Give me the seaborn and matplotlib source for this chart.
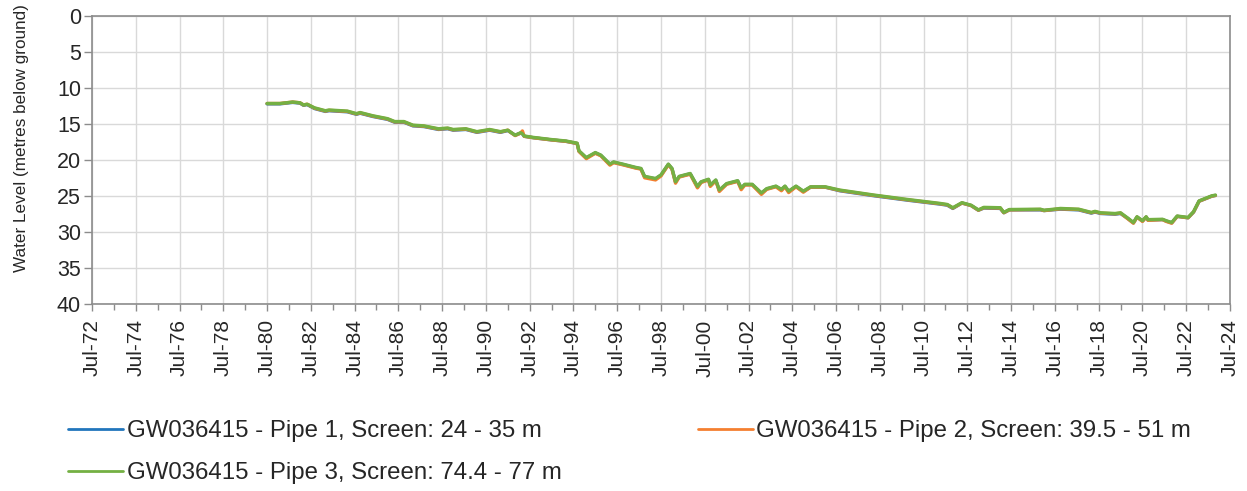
import numpy as np
import pandas as pd
import matplotlib
matplotlib.use("Agg")
import matplotlib.pyplot as plt
import matplotlib.dates as mdates
from matplotlib.ticker import MultipleLocator
from matplotlib.lines import Line2D
import seaborn as sns

# readings (month of sample) and water level in metres below ground for each pipe
dates = [
    "1980-07", "1981-02", "1981-09", "1982-01", "1982-03", "1982-05", "1982-09", "1983-03", "1983-05", "1984-03",
    "1984-08", "1984-10", "1985-05", "1986-01", "1986-05", "1986-10", "1987-03", "1987-09", "1988-05", "1988-10",
    "1989-01", "1989-08", "1990-02", "1990-09", "1991-03", "1991-07", "1991-11", "1992-02", "1992-03", "1992-04",
    "1992-09", "1993-07", "1994-03", "1994-09", "1994-10", "1995-02", "1995-07", "1995-10", "1996-03", "1996-05",
    "1996-10", "1997-05", "1997-08", "1997-10", "1998-04", "1998-07", "1998-11", "1999-01", "1999-03", "1999-05",
    "1999-11", "2000-03", "2000-05", "2000-09", "2000-10", "2001-01", "2001-03", "2001-07", "2002-01", "2002-03",
    "2002-05", "2002-09", "2003-02", "2003-05", "2003-10", "2004-01", "2004-03", "2004-05", "2004-09", "2005-01",
    "2005-05", "2006-01", "2006-09", "2008-04", "2009-10", "2011-04", "2011-08", "2011-11", "2012-04", "2012-09",
    "2013-01", "2013-04", "2014-01", "2014-03", "2014-06", "2015-11", "2016-01", "2016-10", "2017-08", "2018-03",
    "2018-05", "2018-08", "2019-04", "2019-07", "2019-11", "2020-02", "2020-04", "2020-07", "2020-09", "2020-10",
    "2021-06", "2021-08", "2021-11", "2022-02", "2022-08", "2022-11", "2023-02", "2023-09", "2023-11",
]

pipe1 = [
    12.25, 12.25, 12.05, 12.15, 12.45, 12.35, 12.9, 13.3, 13.2, 13.35,
    13.7, 13.55, 14.0, 14.4, 14.8, 14.8, 15.3, 15.4, 15.8, 15.7,
    15.9, 15.8, 16.2, 15.9, 16.2, 15.95, 16.6, 16.3, 16.4, 16.75,
    16.95, 17.25, 17.45, 17.75, 18.8, 19.75, 19.05, 19.4, 20.65, 20.35,
    20.65, 21.1, 21.25, 22.35, 22.65, 22.15, 20.65, 21.25, 23.1, 22.35,
    21.95, 23.75, 23.1, 22.75, 23.55, 22.85, 24.25, 23.35, 22.95, 23.95,
    23.45, 23.45, 24.65, 24.05, 23.7, 24.15, 23.7, 24.4, 23.7, 24.4,
    23.8, 23.8, 24.3, 25.0, 25.6, 26.15, 26.3, 26.75, 26.0, 26.35,
    27.0, 26.7, 26.75, 27.35, 26.95, 26.95, 27.05, 26.85, 26.95, 27.4,
    27.25, 27.45, 27.55, 27.45, 28.15, 28.75, 27.95, 28.5, 27.95, 28.35,
    28.3, 28.5, 28.75, 27.85, 28.05, 27.25, 25.75, 25.05, 24.95,
]

pipe2 = [
    12.2, 12.2, 12.0, 12.1, 12.4, 12.3, 12.85, 13.25, 13.15, 13.3,
    13.65, 13.5, 13.95, 14.35, 14.75, 14.75, 15.25, 15.35, 15.75, 15.65,
    15.85, 15.75, 16.15, 15.85, 16.15, 15.9, 16.65, 16.3, 16.0, 16.75,
    16.95, 17.25, 17.45, 17.75, 18.85, 19.85, 19.1, 19.45, 20.75, 20.4,
    20.7, 21.15, 21.3, 22.5, 22.8, 22.25, 20.7, 21.3, 23.25, 22.4,
    22.0, 23.9, 23.15, 22.8, 23.7, 22.9, 24.4, 23.4, 23.0, 24.15,
    23.5, 23.5, 24.8, 24.1, 23.75, 24.3, 23.75, 24.55, 23.75, 24.5,
    23.8, 23.8, 24.25, 24.95, 25.55, 26.1, 26.25, 26.7, 26.0, 26.35,
    27.0, 26.65, 26.7, 27.35, 26.95, 26.9, 27.05, 26.8, 26.9, 27.35,
    27.2, 27.4, 27.5, 27.4, 28.2, 28.8, 27.95, 28.55, 27.95, 28.4,
    28.3, 28.55, 28.8, 27.85, 28.05, 27.25, 25.75, 25.05, 24.95,
]

pipe3 = [
    12.2, 12.2, 12.0, 12.1, 12.4, 12.3, 12.8, 13.2, 13.1, 13.25,
    13.6, 13.45, 13.9, 14.3, 14.7, 14.7, 15.2, 15.3, 15.7, 15.6,
    15.8, 15.7, 16.1, 15.8, 16.1, 15.9, 16.6, 16.25, 16.4, 16.7,
    16.9, 17.2, 17.4, 17.7, 18.75, 19.7, 19.0, 19.35, 20.6, 20.3,
    20.6, 21.05, 21.2, 22.3, 22.6, 22.1, 20.6, 21.2, 23.05, 22.3,
    21.9, 23.7, 23.05, 22.7, 23.5, 22.8, 24.2, 23.3, 22.9, 23.9,
    23.4, 23.4, 24.6, 24.0, 23.65, 24.1, 23.65, 24.35, 23.65, 24.35,
    23.75, 23.75, 24.2, 24.9, 25.5, 26.05, 26.2, 26.65, 25.95, 26.3,
    26.95, 26.6, 26.65, 27.3, 26.9, 26.85, 27.0, 26.75, 26.85, 27.3,
    27.15, 27.35, 27.45, 27.35, 28.1, 28.7, 27.9, 28.45, 27.9, 28.3,
    28.25, 28.45, 28.7, 27.8, 28.0, 27.2, 25.7, 25.0, 24.9,
]

labels = [
    "GW036415 - Pipe 1, Screen: 24 - 35 m",
    "GW036415 - Pipe 2, Screen: 39.5 - 51 m",
    "GW036415 - Pipe 3, Screen: 74.4 - 77 m",
]
colors = ["#2176BC", "#F47F30", "#74B043"]

when = pd.to_datetime(dates)
df = pd.concat([
    pd.DataFrame({"date": when, "level": pipe1, "pipe": labels[0]}),
    pd.DataFrame({"date": when, "level": pipe2, "pipe": labels[1]}),
    pd.DataFrame({"date": when, "level": pipe3, "pipe": labels[2]}),
], ignore_index=True)

sns.set_style("white")
plt.rcParams["font.family"] = ["Liberation Sans", "DejaVu Sans"]

fig = plt.figure(figsize=(12.47, 4.91), dpi=100)
ax = fig.add_axes([92 / 1247, 1 - 304 / 491, (1230 - 92) / 1247, (304 - 15.5) / 491])

sns.lineplot(data=df, x="date", y="level", hue="pipe", hue_order=labels,
             palette=colors, linewidth=2.4, ax=ax, legend=False, sort=False)

ax.set_ylim(40, 0)
ax.yaxis.set_major_locator(MultipleLocator(5))
ax.set_xlim(pd.Timestamp("1972-07-01"), pd.Timestamp("2024-07-01"))
ax.xaxis.set_major_locator(mdates.MonthLocator(bymonth=7, bymonthday=1, interval=24))
ax.xaxis.set_minor_locator(mdates.YearLocator(1, month=7, day=1))
ax.xaxis.set_major_formatter(mdates.DateFormatter("%b-%y"))

ax.grid(True, which="major", color="#D9D9D9", linewidth=1.0)
ax.set_axisbelow(True)
for s in ax.spines.values():
    s.set_color("#8C8C8C")
    s.set_linewidth(1.2)

ax.tick_params(axis="y", which="major", direction="out", length=6, width=1, color="#8C8C8C",
               labelsize=15.5, pad=2, left=True)
ax.tick_params(axis="x", which="major", direction="out", length=5, width=1, color="#8C8C8C",
               labelsize=15, pad=6, bottom=True, labelrotation=90)
ax.tick_params(axis="x", which="minor", direction="out", length=4, width=1, color="#8C8C8C", bottom=True)

ax.set_xlabel("")
ax.set_ylabel("Water Level (metres below ground)", fontsize=12.3)
ax.yaxis.set_label_coords(-0.055, 0.574)

# legend is filled column by column, so order it to read pipe 1, pipe 2 on the first row
order = [0, 2, 1]
handles = [Line2D([], [], color=colors[i], linewidth=2.0) for i in order]
fig.legend(handles, [labels[i] for i in order], loc="upper left",
           bbox_to_anchor=(68 / 1247, 1 - 420 / 491),
           ncol=2, frameon=False, fontsize=17.3, handlelength=2.3, handletextpad=0.15,
           columnspacing=5.65, labelspacing=0.85, borderpad=0, borderaxespad=0)

fig.savefig("out.png", dpi=100)
